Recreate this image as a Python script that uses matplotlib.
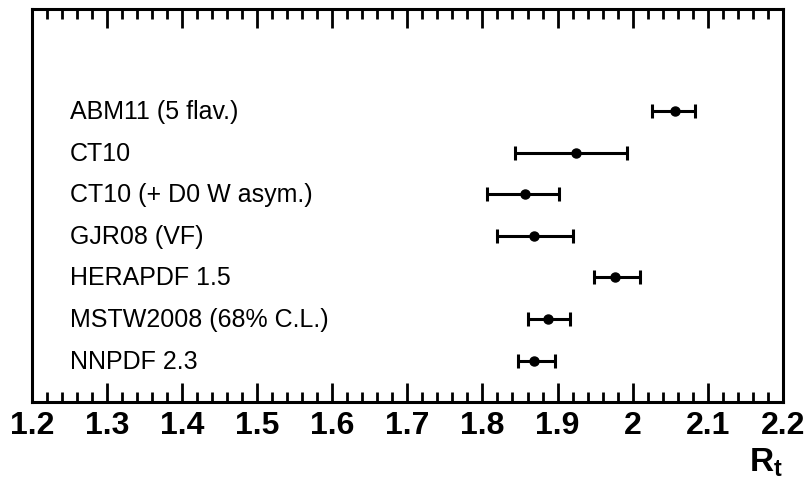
import numpy as np
import matplotlib
matplotlib.use("Agg")
import matplotlib.pyplot as plt
from matplotlib.ticker import MultipleLocator

# PDF sets and their R_t predictions (central value, lower / upper edge of band)
pdf_sets = ["ABM11 (5 flav.)", "CT10", "CT10 (+ D0 W asym.)", "GJR08 (VF)",
            "HERAPDF 1.5", "MSTW2008 (68% C.L.)", "NNPDF 2.3"]
rt_central = [2.057, 1.925, 1.857, 1.869, 1.976, 1.887, 1.869]
rt_low = [2.026, 1.844, 1.806, 1.819, 1.949, 1.860, 1.847]
rt_high = [2.083, 1.993, 1.902, 1.920, 2.010, 1.916, 1.896]

plt.rcParams['font.family'] = ['Liberation Sans', 'DejaVu Sans']
plt.rcParams['mathtext.fontset'] = 'custom'
plt.rcParams['mathtext.rm'] = 'Liberation Sans'
plt.rcParams['mathtext.bf'] = 'Liberation Sans:bold'

fig = plt.figure(figsize=(8.05, 4.85), dpi=100)
ax = fig.add_axes([0.0395, 0.169, 0.933, 0.811])

central = np.array(rt_central)
err = [central - np.array(rt_low), np.array(rt_high) - central]
ypos = np.arange(len(pdf_sets), 0, -1)

ax.errorbar(central, ypos, xerr=err, fmt='o', color='black', ms=6.5,
            elinewidth=2.2, capsize=5, capthick=2.2)

for y, name in zip(ypos, pdf_sets):
    ax.text(1.251, y, name, fontsize=18, va='center', ha='left')

def fmt(v, pos):
    s = '%.1f' % v
    return '2' if s == '2.0' else s

ax.set_xlim(1.2, 2.2)
ax.set_ylim(0, 9.47)
ax.xaxis.set_major_locator(MultipleLocator(0.1))
ax.xaxis.set_minor_locator(MultipleLocator(0.02))
ax.xaxis.set_major_formatter(plt.FuncFormatter(fmt))
ax.set_yticks([])
ax.tick_params(axis='x', which='both', direction='in', top=True, bottom=True)
ax.tick_params(axis='x', which='major', length=14, width=2, pad=6, labelsize=23)
ax.tick_params(axis='x', which='minor', length=7, width=2)
for lbl in ax.get_xticklabels():
    lbl.set_fontweight('bold')
for s in ax.spines.values():
    s.set_linewidth(2.2)

fig.text(0.952, 0.046, r'$\mathbf{R_t}$', fontsize=24, ha='center', va='center')

fig.savefig('out.png', dpi=100)
